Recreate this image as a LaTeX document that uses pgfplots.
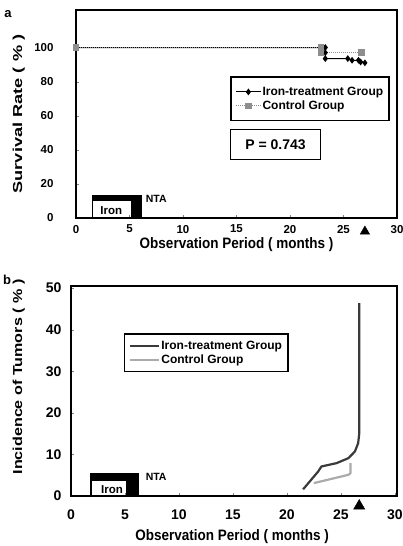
\documentclass[border=0pt]{standalone}
\usepackage{fontspec}
\setmainfont{Liberation Sans}
\usepackage{graphicx}
\usepackage{pgfplots}
\pgfplotsset{compat=1.18}
\definecolor{ctrlgray}{HTML}{8E8E8E}
\definecolor{irondark}{HTML}{3A3A3A}
\definecolor{ctrllight}{HTML}{ABABAB}
\newcommand{\fs}[1]{\bfseries\fontsize{#1}{#1}\selectfont}
\begin{document}
\begin{tikzpicture}
\useasboundingbox (0,0) rectangle (402pt,546pt);
\node[font=\fs{13}] at (8pt,532pt) {a};
\node[font=\fs{13}] at (7pt,266pt) {b};

% panel a: survival
\begin{axis}[
  at={(76pt,328pt)}, anchor=south west,
  scale only axis, width=321pt, height=208pt,
  xmin=0, xmax=30, ymin=0, ymax=122,
  xtick={0,5,...,30}, ytick={0,20,...,100},
  tick pos=left, tick align=inside, major tick length=3pt,
  axis line style={line width=1.2pt}, axis on top, clip=false,
  /pgf/number format/assume math mode=true,
  tick label style={font=\fs{11.5}},
  x tick label style={yshift=-3.5pt},
  y tick label style={xshift=-19pt},
  xlabel={\scalebox{1}[1.12]{Observation Period ( months )}},
  ylabel={\scalebox{1.4}[1]{Survival Rate ( \% )}},
  xlabel style={at={(axis description cs:0.5,-0.13)}, anchor=center, font=\fs{13.5}},
  ylabel style={at={(axis description cs:-0.178,0.5)}, anchor=center, font=\fs{13}},
  legend style={at={(axis cs:14.4,83)}, anchor=north west, draw=black, line width=1.6pt,
    fill=white, font=\fs{12}, inner xsep=4.5pt, inner ysep=8.5pt, row sep=1.5pt,
    nodes={inner sep=1.2pt}},
  legend cell align=left,
  legend image code/.code={\draw[mark repeat=2,mark phase=2,#1] plot coordinates {(0pt,0pt) (12.5pt,0pt) (25pt,0pt)};},
]
\addplot[fill=black, draw=none, forget plot] coordinates {(1.47,13.7) (6.16,13.7)} \closedcycle;
\addplot[fill=white, draw=none, forget plot] coordinates {(1.62,9.8) (5.15,9.8)} \closedcycle;
\node[font=\fs{11.5}] at (axis cs:3.3,4.2) {Iron};
\node[font=\fs{10.5}, anchor=west] at (axis cs:6.2,11.2) {NTA};

\addplot[black, line width=1pt, mark=diamond*, mark size=2.6pt, mark options={solid}] coordinates {
  (0,100) (23.3,100) (23.3,97) (23.3,93.5) (25.4,93.5) (25.8,92.5) (26.4,92.5) (26.6,91.5) (27,91)
};
\addlegendentry{Iron-treatment Group}
\addplot[ctrlgray, line width=1pt, densely dotted, mark=square*, mark size=2.7pt, mark options={solid}] coordinates {
  (0,100) (22.9,100) (22.9,97) (26.7,97)
};
\addlegendentry{Control Group}

\addplot[only marks, mark=triangle*, mark size=5.5pt, black, forget plot] coordinates {(27,-7.9)};
\node[draw=black, line width=1.3pt, fill=white, minimum width=90pt, minimum height=30pt,
  font=\fs{14}] at (axis cs:18.65,43) {P = 0.743};
\end{axis}

% panel b: tumour incidence
\begin{axis}[
  at={(71pt,50pt)}, anchor=south west,
  scale only axis, width=326pt, height=210pt,
  xmin=0, xmax=30.2, ymin=0, ymax=50.5,
  xtick={0,5,...,30}, ytick={0,10,...,50},
  tick pos=left, tick align=inside, major tick length=3pt,
  axis line style={line width=1.6pt}, axis on top, clip=false,
  /pgf/number format/assume math mode=true,
  tick label style={font=\fs{14}},
  x tick label style={yshift=-10pt},
  y tick label style={xshift=-6pt},
  xlabel={\scalebox{1}[1.12]{Observation Period ( months )}},
  ylabel={\scalebox{1.24}[1]{Incidence of Tumors ( \% )}},
  xlabel style={at={(axis description cs:0.494,-0.195)}, anchor=center, font=\fs{13.5}},
  ylabel style={at={(axis description cs:-0.16,0.567)}, anchor=center, font=\fs{13}},
  legend style={at={(axis cs:4.88,39.1)}, anchor=north west, draw=black, line width=1.6pt,
    fill=white, font=\fs{12}, inner xsep=4.5pt, inner ysep=5.5pt, row sep=1.5pt,
    nodes={inner sep=1.2pt}},
  legend cell align=left,
  legend image code/.code={\draw[#1] (0pt,0pt) -- (29pt,0pt);},
]
\addplot[fill=black, draw=none, forget plot] coordinates {(1.79,5.5) (6.26,5.5)} \closedcycle;
\addplot[fill=white, draw=none, forget plot] coordinates {(1.92,3.7) (5.12,3.7)} \closedcycle;
\node[font=\fs{11.5}] at (axis cs:3.8,1.5) {Iron};
\node[font=\fs{10.5}, anchor=west] at (axis cs:6.6,4.65) {NTA};

\addplot[irondark, line width=2.2pt, line join=round] coordinates {
  (21.5,1.6) (22.9,5.9) (23.2,7.1) (24.6,7.9) (25.7,9.1) (26.3,10.7) (26.6,12.7) (26.7,15) (26.7,46.4)
};
\addlegendentry{Iron-treatment Group}
\addplot[ctrllight, line width=2.2pt, line join=round] coordinates {
  (22.5,3.1) (25.7,5.1) (25.9,5.5) (25.9,7.9)
};
\addlegendentry{Control Group}

\addplot[only marks, mark=triangle*, mark size=6.5pt, black, forget plot] coordinates {(26.7,-2.4)};
\end{axis}
\end{tikzpicture}
\end{document}
